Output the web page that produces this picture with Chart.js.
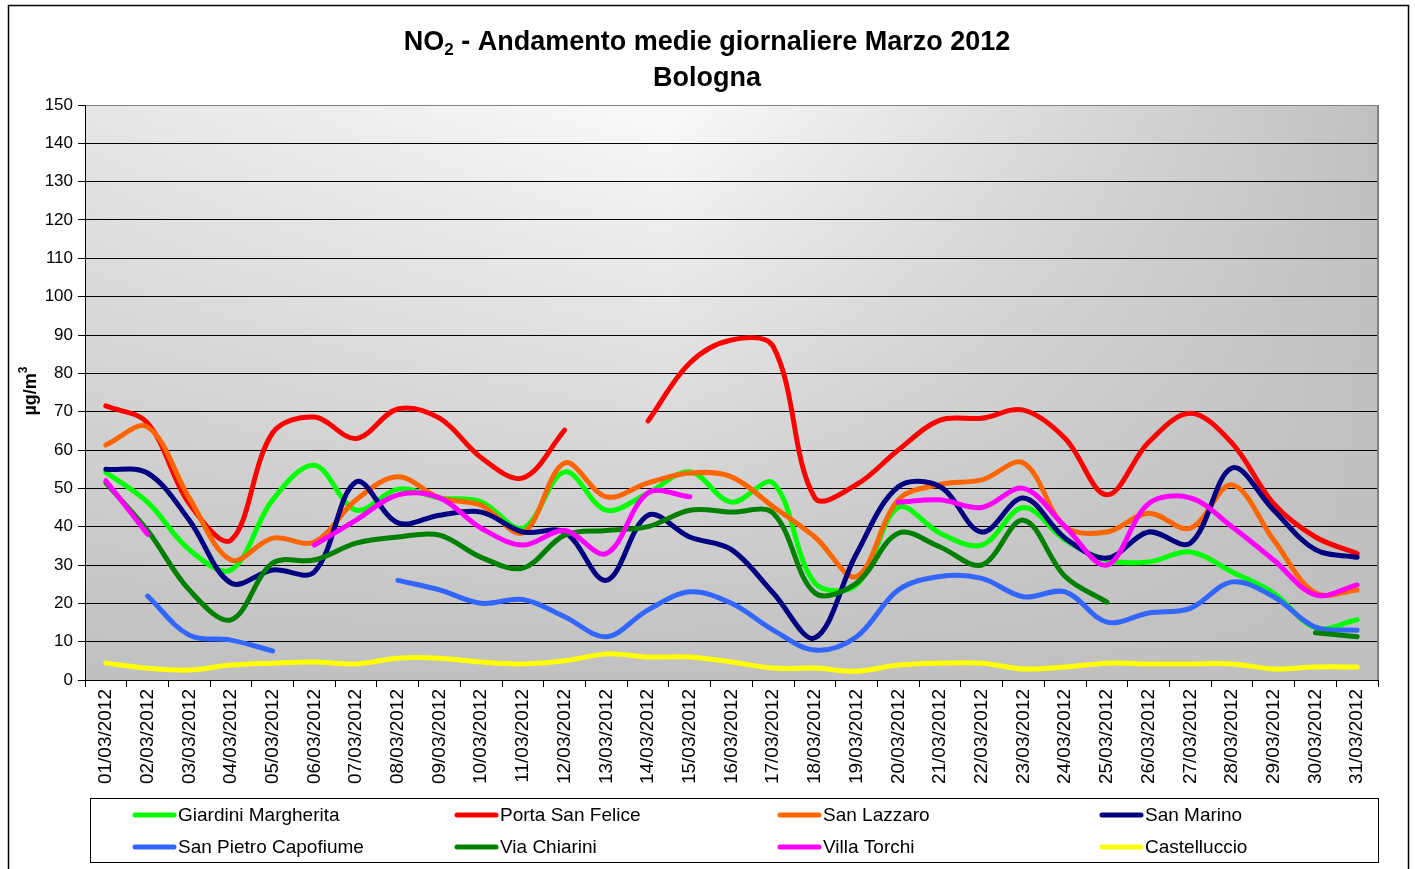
<!DOCTYPE html>
<html><head><meta charset="utf-8">
<script src="https://cdn.jsdelivr.net/npm/chart.js@4.4.1/dist/chart.umd.min.js"></script>
<style>html,body{margin:0;padding:0;background:#fff;overflow:hidden}</style>
</head><body>
<canvas id="c" width="1415" height="869" style="width:1415px;height:869px;display:block"></canvas>
<script>
const days = ["01/03/2012","02/03/2012","03/03/2012","04/03/2012","05/03/2012","06/03/2012","07/03/2012","08/03/2012","09/03/2012","10/03/2012","11/03/2012","12/03/2012","13/03/2012","14/03/2012","15/03/2012","16/03/2012","17/03/2012","18/03/2012","19/03/2012","20/03/2012","21/03/2012","22/03/2012","23/03/2012","24/03/2012","25/03/2012","26/03/2012","27/03/2012","28/03/2012","29/03/2012","30/03/2012","31/03/2012"];

const giardiniMargherita = [54.2,46.4,34,28.7,47,56,44.3,49.8,47.5,46.5,39.6,54.3,44.3,48.8,54.3,46.4,51.4,25.3,24.8,45,38.3,35.2,45,36.5,31.3,30.8,33.4,28.2,22.7,13.6,15.7];
const portaSanFelice = [71.5,67,46,36.5,64.5,68.6,63,70.7,68.3,58,52.7,65.2,null,67.6,82.7,88.7,87,47.5,51,60,67.8,68.3,70.4,63,48.3,62,69.6,61.8,46,37.3,33];
const sanLazzaro = [61.3,66,47.5,31.3,37,36,47,53,47.5,45.6,38.4,56.6,47.8,51.4,54,53,45.2,37.3,27,47,51,52.2,56.6,40,38.6,43.5,39.6,50.9,36.5,22.7,23.5];
const sanMarino = [55,54,41.7,25.3,28.7,28.2,51.7,41,43,43.8,38.6,38.6,26,43,37.3,34,22.7,11,33,50.4,50.4,38.6,47.5,37,31.8,38.6,35.7,55.3,44.3,34,32];
const sanPietroCapofiume = [null,21.9,11.7,10.4,7.6,null,null,26,23.5,20,21,16.5,11.3,18.3,23,20,13,7.8,11.3,23.5,27,26.5,21.7,23,15.1,17.5,18.7,25.6,21.7,13.8,13];
const viaChiarini = [51.4,39,23.5,15.7,30.5,31.3,35.7,37.3,37.8,32,29.2,37.8,39,40,44.3,43.8,43.5,22.7,25.3,38.3,34.7,30,41.7,27,20.3,null,null,null,null,12.3,11.3];
const villaTorchi = [52,38,null,null,null,35.2,41.7,48.3,47.5,39.6,35.2,39,33,48.8,47.8,null,null,null,null,46.4,47,45,50,40,30,46,47.5,40,31.3,22.2,24.8];
const castelluccio = [4.4,3.1,2.6,3.9,4.4,4.7,4.2,5.7,5.7,4.7,4.2,5,6.8,6,6,4.7,3.1,3.1,2.3,3.9,4.4,4.4,2.9,3.4,4.4,4.2,4.2,4.2,2.9,3.4,3.4];

const seriesNames = ["Giardini Margherita","Porta San Felice","San Lazzaro","San Marino","San Pietro Capofiume","Via Chiarini","Villa Torchi","Castelluccio"];
const seriesValues = [giardiniMargherita,portaSanFelice,sanLazzaro,sanMarino,sanPietroCapofiume,viaChiarini,villaTorchi,castelluccio];
const seriesColors = ["#00FF00","#FF0000","#FF6600","#000080","#3366FF","#008000","#FF00FF","#FFFF00"];
const yTicks = {min:0, max:150, step:10};

const FONT = '"Liberation Sans", Arial, Helvetica, sans-serif';

const datasets = seriesNames.map((n,i)=>({
  label:n, data:seriesValues[i], borderColor:seriesColors[i], backgroundColor:seriesColors[i],
  borderWidth:5, tension:0.35, pointRadius:0, fill:false, spanGaps:false,
  borderCapStyle:'round', borderJoinStyle:'round', order: seriesNames.length - i
}));

const decor = {
  id:'decor',
  beforeDraw(chart){
    const c = chart.ctx, a = chart.chartArea;
    c.save();
    c.fillStyle = '#fff'; c.fillRect(0,0,chart.width,chart.height);
    const g1 = c.createLinearGradient(0,a.top,0,a.bottom);
    g1.addColorStop(0,'#FAFAFA'); g1.addColorStop(1,'#C0C0C0');
    c.fillStyle = g1; c.fillRect(a.left,a.top,a.right-a.left,a.bottom-a.top);
    const g2 = c.createLinearGradient(a.left,0,a.right,0);
    g2.addColorStop(0,'rgba(192,192,192,0.35)');
    g2.addColorStop(0.45,'rgba(192,192,192,0)');
    g2.addColorStop(1,'rgba(192,192,192,1)');
    c.fillStyle = g2; c.fillRect(a.left,a.top,a.right-a.left,a.bottom-a.top);
    c.restore();
  },
  afterDraw(chart){
    const c = chart.ctx, a = chart.chartArea;
    c.save();
    c.strokeStyle = '#808080'; c.lineWidth = 2;
    c.beginPath(); c.moveTo(a.right, a.top); c.lineTo(a.right, a.bottom); c.stroke();
    c.strokeStyle = '#000'; c.lineWidth = 1.5;
    c.strokeRect(8.5, 5.5, 1400, 900);
    c.fillStyle = '#000'; c.textBaseline = 'alphabetic';
    const big = 'bold 27px ' + FONT, small = 'bold 17px ' + FONT;
    c.font = big; const w1 = c.measureText('NO').width;
    c.font = small; const w2 = c.measureText('2').width;
    c.font = big; const rest = ' - Andamento medie giornaliere Marzo 2012'; const w3 = c.measureText(rest).width;
    let x = 707 - (w1+w2+w3)/2; const by = 50;
    c.textAlign = 'left';
    c.fillText('NO', x, by); x += w1;
    c.font = small; c.fillText('2', x, by+5); x += w2;
    c.font = big; c.fillText(rest, x, by);
    c.textAlign = 'center'; c.fillText('Bologna', 707, 86);
    c.save(); c.translate(31, 391); c.rotate(-Math.PI/2);
    c.font = 'bold 18px ' + FONT; c.textAlign='left'; c.textBaseline='middle';
    const t1 = 'µg/m', tw1 = c.measureText(t1).width;
    c.font = 'bold 12px ' + FONT; const tw2 = c.measureText('3').width;
    const sx = -(tw1+tw2)/2;
    c.font = 'bold 18px ' + FONT; c.fillText(t1, sx, 0);
    c.font = 'bold 12px ' + FONT; c.fillText('3', sx+tw1, -7);
    c.restore();
    c.strokeStyle = '#000'; c.lineWidth = 1;
    c.strokeRect(90.5, 798.5, 1288, 64);
    const cols = [133, 455, 778, 1100], rows = [815, 847];
    c.font = '19px ' + FONT; c.textAlign='left'; c.textBaseline='middle';
    chart.data.datasets.forEach((ds,i)=>{
      const cx = cols[i%4], cy = rows[Math.floor(i/4)];
      c.strokeStyle = ds.borderColor; c.lineWidth = 5; c.lineCap='round';
      c.beginPath(); c.moveTo(cx+2, cy); c.lineTo(cx+41, cy); c.stroke();
      c.fillStyle = '#000'; c.fillText(ds.label, cx+45, cy+1);
    });
    c.restore();
  }
};

new Chart(document.getElementById('c'), {
  type:'line',
  data:{labels:days, datasets},
  options:{
    responsive:false, animation:false, devicePixelRatio:1,
    layout:{padding:{left:0, right:37, top:105, bottom:0}},
    plugins:{legend:{display:false}, tooltip:{enabled:false}, title:{display:false}},
    scales:{
      x:{
        offset:true,
        grid:{offset:true, drawOnChartArea:false, drawTicks:true, tickLength:7, tickColor:'#000', color:'#000'},
        border:{display:true, color:'#000', width:1},
        ticks:{autoSkip:false, maxRotation:90, minRotation:90, color:'#000', padding:2, font:{family:FONT, size:19}},
        afterFit(s){ s.height = 189; }
      },
      y:{
        min:yTicks.min, max:yTicks.max,
        grid:{color:(ctx)=> (ctx.tick && ctx.tick.value===150) ? '#808080' : '#000', lineWidth:1, tickLength:7, tickColor:'#000'},
        border:{display:true, color:'#000', width:1},
        ticks:{stepSize:yTicks.step, color:'#000', padding:5, font:{family:FONT, size:17}},
        afterFit(s){ s.width = 85; }
      }
    }
  },
  plugins:[decor]
});
</script>
</body></html>
